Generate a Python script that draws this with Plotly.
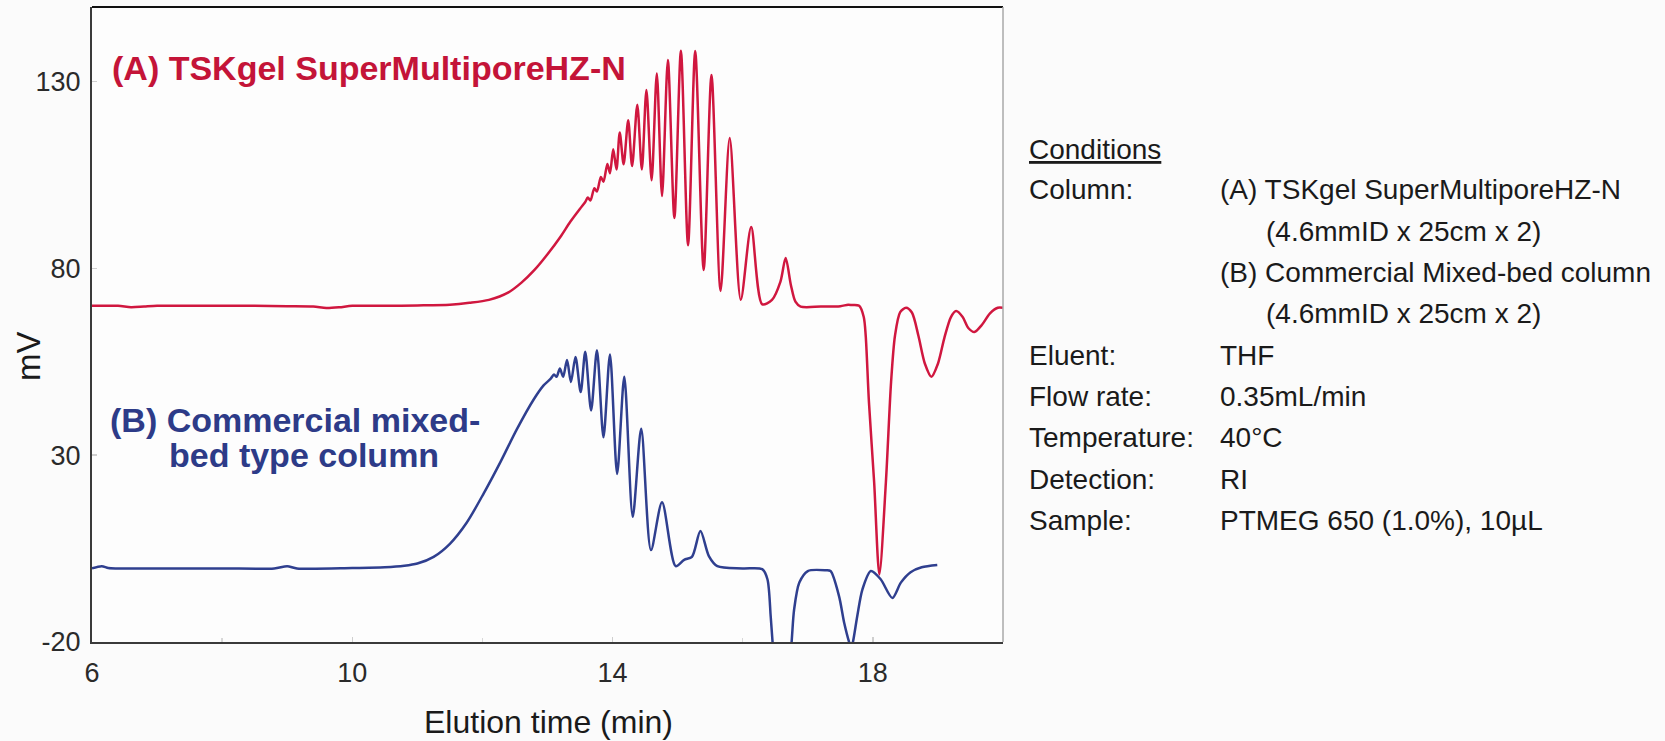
import plotly.graph_objects as go

# ---------------- data ----------------
red_time = [6.0, 6.4, 6.6, 6.8, 7.0, 7.5, 8.0, 8.5, 9.0, 9.4, 9.6, 9.8, 10.0, 10.5, 11.0, 11.5, 11.8,
            12.1, 12.4, 12.6, 12.8, 13.0, 13.2, 13.35, 13.5, 13.58, 13.62, 13.66, 13.72, 13.76,
            13.82, 13.86, 13.92, 13.96, 14.01, 14.06, 14.11, 14.17, 14.24, 14.30, 14.38, 14.45, 14.52,
            14.60, 14.68, 14.76, 14.85, 14.95, 15.05, 15.16, 15.27, 15.40, 15.52, 15.66, 15.80, 15.97,
            16.13, 16.30, 16.45, 16.58, 16.66, 16.74, 16.81, 16.89, 17.2, 17.5, 17.62, 17.68, 17.79,
            17.86, 17.89, 17.94, 18.02, 18.10, 18.20, 18.28, 18.34, 18.42, 18.51, 18.60, 18.70, 18.80,
            18.90, 19.00, 19.10, 19.20, 19.28, 19.38, 19.47, 19.56, 19.68, 19.80, 19.92, 20.0]
red_mv = [70.0, 70.0, 69.6, 69.8, 70.0, 70.0, 70.0, 70.0, 69.9, 69.8, 69.4, 69.6, 70.0, 70.0, 70.1, 70.3,
          70.8, 71.6, 73.6, 76.2, 79.6, 83.8, 88.5, 92.5, 96.0, 97.8, 99.0, 98.2, 101.5, 100.6,
          104.5, 103.2, 108.0, 105.5, 111.9, 106.5, 116.4, 107.9, 119.7, 107.4, 123.8, 106.5, 127.8,
          103.6, 132.2, 99.4, 135.8, 93.5, 138.3, 86.2, 138.2, 79.6, 131.8, 74.0, 114.9, 71.6, 91.1,
          70.4, 71.6, 76.5, 82.8, 75.6, 71.1, 69.8, 69.8, 69.9, 70.3, 70.2, 70.0, 67.0, 62.0, 44.2,
          22.7, -1.9, 22.7, 49.6, 62.0, 68.3, 69.5, 68.2, 62.0, 54.5, 51.0, 54.5, 61.5, 67.0, 68.6,
          67.0, 64.0, 63.0, 65.0, 68.0, 69.5, 69.5]

blue_time = [6.0, 6.15, 6.25, 6.4, 7.0, 8.0, 8.8, 9.0, 9.15, 10.0, 10.5, 10.8, 11.0, 11.25, 11.5, 11.76,
             12.02, 12.28, 12.53, 12.79, 12.94, 13.05, 13.10, 13.14, 13.19, 13.24, 13.30, 13.36, 13.43,
             13.51, 13.58, 13.67, 13.76, 13.86, 13.96, 14.07, 14.18, 14.31, 14.44, 14.59, 14.76, 14.97,
             15.10, 15.22, 15.35, 15.48, 15.61, 16.0, 16.30, 16.38, 16.43, 16.46, 16.60, 16.75, 16.79,
             16.87, 17.0, 17.28, 17.35, 17.48, 17.56, 17.64, 17.665, 17.69, 17.76, 17.84, 17.97, 18.12,
             18.30, 18.43, 18.58, 18.75, 18.99]
blue_mv = [-0.3, 0.3, -0.2, -0.3, -0.3, -0.3, -0.3, 0.3, -0.3, -0.2, 0.0, 0.4, 1.0, 2.8, 6.3, 12.0, 19.8,
           28.3, 37.0, 45.0, 48.7, 50.5, 51.6, 51.0, 53.2, 51.0, 55.5, 49.6, 56.3, 46.9, 57.7, 42.0,
           58.1, 34.8, 57.0, 25.0, 51.0, 13.5, 37.1, 4.6, 17.4, 0.3, 2.0, 2.8, 9.7, 3.0, 0.3, -0.3,
           -0.5, -3.2, -13.1, -20.3, -50.0, -20.3, -11.3, -4.1, -1.0, -0.8, -1.0, -7.7, -14.9, -20.3,
           -21.5, -20.3, -13.1, -5.9, -1.0, -3.2, -8.2, -4.1, -1.3, 0.0, 0.6]

x_ticks = [6, 10, 14, 18]
y_ticks = [-20, 30, 80, 130]

label_a = "(A) TSKgel SuperMultiporeHZ-N"
label_b1 = "(B) Commercial mixed-"
label_b2 = "bed type column"

cond_title = "Conditions"
cond_labels = ["Column:", "", "", "", "Eluent:", "Flow rate:", "Temperature:", "Detection:", "Sample:"]
cond_values = ["(A) TSKgel SuperMultiporeHZ-N", "(4.6mmID x 25cm x 2)", "(B) Commercial Mixed-bed column",
               "(4.6mmID x 25cm x 2)", "THF", "0.35mL/min", "40°C", "RI", "PTMEG 650 (1.0%), 10µL"]
cond_indent = [False, True, False, True, False, False, False, False, False]

# ---------------- layout geometry (page pixels) ----------------
W, H = 1665, 741
L, R, T, B = 92, 1003, 7, 642
PW, PH = R - L, B - T


def px(x):
    return (x - L) / PW


def py(y):
    return (B - y) / PH


RED_LINE = "#d0173f"
RED_TEXT = "#c41438"
BLUE_LINE = "#2f3f8f"
BLUE_TEXT = "#2d3b88"
FONT = "Liberation Sans, Arial, sans-serif"

fig = go.Figure()
fig.add_trace(go.Scatter(x=red_time, y=red_mv, mode="lines",
                         line=dict(color=RED_LINE, width=2.5, shape="spline", smoothing=0.8),
                         hoverinfo="skip"))
fig.add_trace(go.Scatter(x=blue_time, y=blue_mv, mode="lines",
                         line=dict(color=BLUE_LINE, width=2.5, shape="spline", smoothing=0.8),
                         hoverinfo="skip"))

annotations = []
annotations.append(dict(x=px(110), y=py(68), xref="paper", yref="paper", text="<b>%s</b>" % label_a,
                        xanchor="left", yanchor="middle", showarrow=False,
                        font=dict(family=FONT, size=34, color=RED_TEXT)))
annotations.append(dict(x=px(108), y=py(420), xref="paper", yref="paper", text="<b>%s</b>" % label_b1,
                        xanchor="left", yanchor="middle", showarrow=False,
                        font=dict(family=FONT, size=34, color=BLUE_TEXT)))
annotations.append(dict(x=px(167), y=py(455), xref="paper", yref="paper", text="<b>%s</b>" % label_b2,
                        xanchor="left", yanchor="middle", showarrow=False,
                        font=dict(family=FONT, size=34, color=BLUE_TEXT)))
# axis titles
annotations.append(dict(x=px(28), y=py(356), xref="paper", yref="paper", text="mV", textangle=-90,
                        xanchor="center", yanchor="middle", showarrow=False,
                        font=dict(family=FONT, size=33, color="#1a1a1a")))
annotations.append(dict(x=px(548), y=py(722), xref="paper", yref="paper", text="Elution time (min)",
                        xanchor="center", yanchor="middle", showarrow=False,
                        font=dict(family=FONT, size=32, color="#1a1a1a")))
# conditions block
cond_font = dict(family=FONT, size=28, color="#1a1a1a")
annotations.append(dict(x=px(1027), y=py(149), xref="paper", yref="paper", text="<u>%s</u>" % cond_title,
                        xanchor="left", yanchor="middle", showarrow=False, font=cond_font))
row_y0, row_dy = 190, 41.3
for i, (lab, val) in enumerate(zip(cond_labels, cond_values)):
    yy = row_y0 + i * row_dy
    if lab:
        annotations.append(dict(x=px(1027), y=py(yy), xref="paper", yref="paper", text=lab,
                                xanchor="left", yanchor="middle", showarrow=False, font=cond_font))
    annotations.append(dict(x=px(1264 if cond_indent[i] else 1218), y=py(yy), xref="paper", yref="paper",
                            text=val, xanchor="left", yanchor="middle", showarrow=False, font=cond_font))

shapes = [
    dict(type="line", xref="paper", yref="paper", x0=0, x1=1, y0=1, y1=1,
         line=dict(color="#111111", width=2)),
    dict(type="line", xref="paper", yref="paper", x0=1, x1=1, y0=0, y1=1,
         line=dict(color="#a8a8a8", width=1.5)),
]

fig.update_layout(
    width=W, height=H,
    margin=dict(l=L, r=W - R, t=T, b=H - B, pad=0),
    paper_bgcolor="#fbfbfb", plot_bgcolor="#fdfdfd",
    showlegend=False,
    annotations=annotations,
    shapes=shapes,
    font=dict(family=FONT, color="#2a2a2a"),
)
fig.update_xaxes(range=[6, 20], tickmode="array", tickvals=x_ticks, ticktext=[str(v) for v in x_ticks],
                 ticks="inside", ticklen=5, tickcolor="#cfcfcf", tickwidth=1.5,
                 minor=dict(tickmode="array", tickvals=[8, 12, 16], ticks="inside", ticklen=4,
                            tickcolor="#d8d8d8"),
                 showgrid=False, zeroline=False, showline=True, linecolor="#3a3a3a", linewidth=2,
                 tickfont=dict(family=FONT, size=27, color="#2a2a2a"), ticklabelstandoff=6)
fig.update_yaxes(range=[-20, 150], tickmode="array", tickvals=y_ticks, ticktext=[str(v) for v in y_ticks],
                 ticks="inside", ticklen=5, tickcolor="#cfcfcf", tickwidth=1.5,
                 showgrid=False, zeroline=False, showline=True, linecolor="#3a3a3a", linewidth=2,
                 tickfont=dict(family=FONT, size=27, color="#2a2a2a"), ticklabelstandoff=4)

fig.write_html("out.html", config={"displayModeBar": False, "staticPlot": True},
               post_script="document.body.style.margin='0px';document.body.style.overflow='hidden';")
